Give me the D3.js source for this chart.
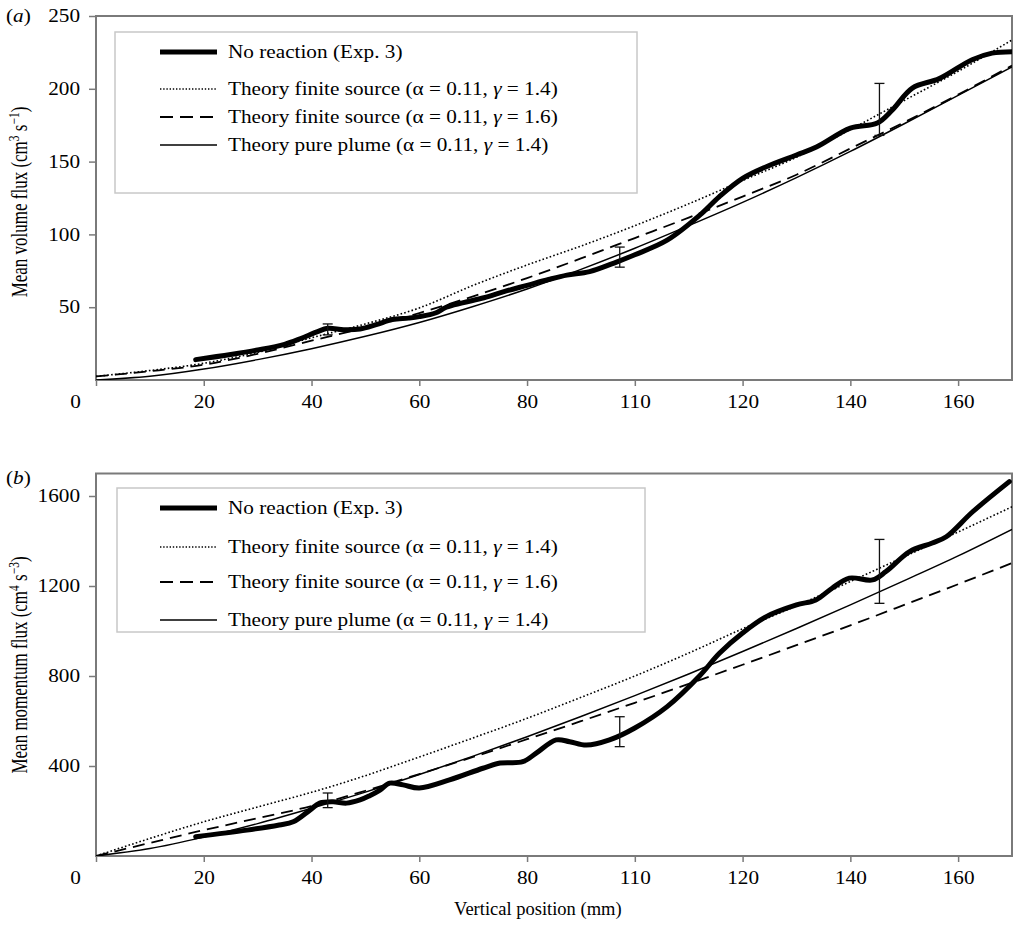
<!DOCTYPE html>
<html><head><meta charset="utf-8">
<script src="https://cdn.jsdelivr.net/npm/d3@7"></script>
<style>body{margin:0;background:#fff}svg{display:block}text{font-family:"Liberation Serif","Times New Roman",serif;fill:#000}</style>
</head><body>
<svg id="c" width="1015" height="925"></svg>
<script>
// ---------- data ----------
const xTickValues = [0,20,40,60,80,100,120,140,160];
const xTickLabels = ["0","20","40","60","80","110","120","140","160"];
const yTicksA = [50,100,150,200,250];
const yTicksB = [400,800,1200,1600];
const legendLabels = ["No reaction (Exp. 3)","Theory finite source","Theory finite source","Theory pure plume"];
const legendGammas = ["","1.4","1.6","1.4"];

const theoryZ = [0,10,20,30,40,50,60,70,80,90,100,110,120,130,140,150,160,170];
// panel (a) volume flux
const aDotted = [2.5,6.5,11.5,19,29,38.5,49.5,65,79,92,106,121,137,153,172,192,212,233.5];
const aDashed = [2.5,6,10.5,18,27,36,46,57.5,70,83.5,97.5,111.5,126,141,159,177,196,216];
const aSolid  = [0,2.5,7.5,14,21.5,30,39.5,50.5,62.5,76,90.5,106,122,139,157,176,195.5,215];
const aExpZ = [18.5,25,30,35,38,41,43,46,49,52,55,58,60,63,65,68,72,76,80,84,87.4,91.6,96.6,100,106,112,115.7,120,124.4,130,133.7,140,145,147.8,151.5,156.5,162.6,166.3,170];
const aExpV = [14,17.5,20.6,24.5,28.5,33,35.5,34.5,35,38,41.5,42.5,43.5,46,50,53,56.5,61,65,69,72,74.4,81,86,96,113,126,138.5,146.5,154.5,160,173,176.5,185.5,200.5,207,220,224.5,225.5];
const aErrZ = [43,97.2,145.4];
const aErrLo = [31,77.5,168];
const aErrHi = [38.5,91.3,203.7];
// panel (b) momentum flux
const bDotted = [0,78,152,218,283,357,440,525,612,705,800,902,1010,1112,1220,1330,1440,1552];
const bDashed = [0,58,115,168,222,290,364,440,519,599,681,765,850,937,1025,1116,1208,1302];
const bSolid  = [0,33,84,144,212,284,362,444,530,620,713,809,909,1011,1116,1224,1334,1452];
const bExpZ = [18.5,28,34,36.6,39.7,41.5,44,46.5,49,50.8,52.7,54.5,57,60,65.6,71.8,75,79.2,81.7,85.4,87.9,91,95.3,100,106,112,115.7,120,124.4,130,133.6,136.6,139.8,144.1,146.6,151,155.2,157.8,162.7,169.5];
const bExpV = [86,115,138,152,204,235,241,235,249,268,293,324,316,302,338,390,413,419,457,516,508,493,516,569,664,800,901,991,1064,1116,1138,1190,1235,1227,1264,1353,1391,1419,1530,1664];
const bErrZ = [43,97.2,145.4];
const bErrLo = [215,486,1123];
const bErrHi = [280,619,1407];

// ---------- layout ----------
const svg = d3.select("#c");
const x = d3.scaleLinear().domain([0,170]).range([96,1012]);
const frameColor = "#7a7a7a";
const SX = 1.18; // horizontal stretch of glyphs seen in the reference

const styles = [
  {w:5, dash:null},
  {w:1.6, dash:"1.6,2.2"},
  {w:1.8, dash:"12,7"},
  {w:1.5, dash:null}
];

function panel(cfg){
  const y = d3.scaleLinear().domain(cfg.yDomain).range(cfg.yRange);
  const g = svg.append("g");
  const top = cfg.yRange[1], bot = cfg.yRange[0];
  const clipId = "clip"+cfg.id;
  svg.append("clipPath").attr("id",clipId).append("rect")
    .attr("x",x(0)).attr("y",top).attr("width",x(170)-x(0)).attr("height",bot-top);

  // x axis
  const xa = g.append("g").attr("transform",`translate(0,${bot})`)
    .call(d3.axisBottom(x).tickValues(xTickValues).tickFormat((d,i)=>xTickLabels[i]).tickSize(6).tickSizeOuter(0));
  xa.select(".domain").remove();
  xa.selectAll("line").attr("stroke",frameColor).attr("stroke-width",1.5);
  xa.selectAll("text").attr("font-size",18).attr("y",0).attr("dy","1.55em")
    .attr("transform",`scale(${SX},1)`).style("font-family","Liberation Serif").attr("fill","#000");
  xa.selectAll(".tick").filter(d=>d===0).select("text").attr("x",-21/SX);

  // y axis
  const ya = g.append("g").attr("transform",`translate(${x(0)},0)`)
    .call(d3.axisLeft(y).tickValues(cfg.yTicks).tickFormat(d3.format("d")).tickSize(7).tickSizeOuter(0));
  ya.select(".domain").remove();
  ya.selectAll("line").attr("stroke",frameColor).attr("stroke-width",1.5);
  ya.selectAll("text").attr("font-size",18).attr("x",-16/SX).attr("transform",`scale(${SX},1)`)
    .style("font-family","Liberation Serif").attr("fill","#000");

  // frame
  g.append("rect").attr("x",x(0)).attr("y",top).attr("width",x(170)-x(0)).attr("height",bot-top)
    .attr("fill","none").attr("stroke",frameColor).attr("stroke-width",2);

  const lines = g.append("g").attr("clip-path",`url(#${clipId})`);
  const theory = [cfg.dotted,cfg.dashed,cfg.solid];
  theory.forEach((vals,k)=>{
    const st = styles[k+1];
    const line = d3.line().x((d,i)=>x(theoryZ[i])).y(d=>y(d)).curve(d3.curveMonotoneX);
    lines.append("path").attr("d",line(vals)).attr("fill","none").attr("stroke","#000")
      .attr("stroke-width",st.w).attr("stroke-dasharray",st.dash);
  });
  const expLine = d3.line().x((d,i)=>x(cfg.expZ[i])).y(d=>y(d)).curve(d3.curveCatmullRom.alpha(0.5));
  lines.append("path").attr("d",expLine(cfg.expV)).attr("fill","none").attr("stroke","#000")
    .attr("stroke-width",5).attr("stroke-linejoin","round").attr("stroke-linecap","round");

  // error bars
  cfg.errZ.forEach((z,i)=>{
    const xx = x(z);
    const eg = g.append("g").attr("stroke","#111").attr("stroke-width",1.3);
    eg.append("line").attr("x1",xx).attr("x2",xx).attr("y1",y(cfg.errLo[i])).attr("y2",y(cfg.errHi[i]));
    [cfg.errLo[i],cfg.errHi[i]].forEach(v=>{
      eg.append("line").attr("x1",xx-5).attr("x2",xx+5).attr("y1",y(v)).attr("y2",y(v));
    });
  });

  // legend
  const L = cfg.legend;
  g.append("rect").attr("x",L.x0).attr("y",L.y0).attr("width",L.x1-L.x0).attr("height",L.y1-L.y0)
    .attr("fill","#fff").attr("stroke","#c8c8c8").attr("stroke-width",1.5);
  legendLabels.forEach((lab,i)=>{
    const yy = L.rows[i];
    const st = styles[i];
    g.append("line").attr("x1",160).attr("x2",217).attr("y1",yy).attr("y2",yy)
      .attr("stroke","#000").attr("stroke-width",st.w).attr("stroke-dasharray",i===2?"13,7":(i===1?"1.4,1.8":null));
    const t = g.append("text").attr("transform",`translate(228,${yy}) scale(${SX},1)`)
      .attr("dy","0.35em").attr("font-size",18);
    t.append("tspan").text(lab);
    if(legendGammas[i]){
      t.append("tspan").text(" (\u03b1 = 0.11, ");
      t.append("tspan").attr("font-style","italic").text("\u03b3");
      t.append("tspan").text(" = "+legendGammas[i]+")");
    }
  });

  // panel letter
  const pl = g.append("text").attr("transform",`translate(${cfg.letterX},${cfg.letterY}) scale(${SX},1)`).attr("font-size",18);
  pl.append("tspan").text("(");
  pl.append("tspan").attr("font-style","italic").text(cfg.letter);
  pl.append("tspan").text(")");

  // y title
  const yt = g.append("text").attr("transform",`translate(27,${cfg.titleY}) rotate(-90) scale(1,1.3)`)
    .attr("text-anchor","middle").attr("font-size",17);
  yt.append("tspan").text(cfg.title1);
  yt.append("tspan").attr("baseline-shift","super").attr("font-size",11.5).text(cfg.sup1);
  yt.append("tspan").text(" s");
  yt.append("tspan").attr("baseline-shift","super").attr("font-size",11.5).text(cfg.sup2);
  yt.append("tspan").text(")");
}

panel({id:"a", yDomain:[0,250], yRange:[380,16], yTicks:yTicksA,
  dotted:aDotted, dashed:aDashed, solid:aSolid, expZ:aExpZ, expV:aExpV,
  errZ:aErrZ, errLo:aErrLo, errHi:aErrHi,
  legend:{x0:115,x1:637,y0:32,y1:193,rows:[52,89,117,145]},
  letter:"a", letterX:6, letterY:22, title1:"Mean volume flux (cm", sup1:"3", sup2:"\u22121", titleY:202});

panel({id:"b", yDomain:[0,1700], yRange:[856,473.5], yTicks:yTicksB,
  dotted:bDotted, dashed:bDashed, solid:bSolid, expZ:bExpZ, expV:bExpV,
  errZ:bErrZ, errLo:bErrLo, errHi:bErrHi,
  legend:{x0:117,x1:645,y0:488,y1:632,rows:[508,547,582,620]},
  letter:"b", letterX:6, letterY:484, title1:"Mean momentum flux (cm", sup1:"4", sup2:"\u22123", titleY:665});

svg.append("text").attr("x",x(82)).attr("y",915).attr("text-anchor","middle").attr("font-size",18.5)
  .text("Vertical position (mm)");
</script>
</body></html>
